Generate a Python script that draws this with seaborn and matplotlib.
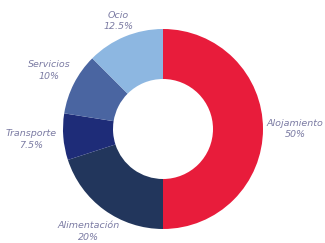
import matplotlib
matplotlib.use("Agg")
import matplotlib.pyplot as plt
import seaborn as sns
import numpy as np

# Data (clockwise from 12 o'clock)
categories = ["Alojamiento", "Alimentación", "Transporte", "Servicios", "Ocio"]
shares = [50, 20, 7.5, 10, 12.5]
share_labels = ["50%", "20%", "7.5%", "10%", "12.5%"]
colors = ["#E81C3B", "#22365C", "#1E2C78", "#4A65A1", "#8DB7E1"]
# how far each label sits from the centre (in radii)
label_dist = [1.32, 1.27, 1.32, 1.28, 1.17]

sns.set_theme(style="white")
plt.rcParams['font.family'] = ['DejaVu Sans']

fig = plt.figure(figsize=(3.25, 2.43), dpi=100)
# square axes of 200 px centred on the donut
ax = fig.add_axes([63 / 325, 14 / 243, 200 / 325, 200 / 243])

labels = [f"{c}\n{s}" for c, s in zip(categories, share_labels)]
wedges, texts = ax.pie(
    shares,
    labels=labels,
    colors=sns.color_palette(colors),
    startangle=90,
    counterclock=False,
    radius=1.0,
    labeldistance=1.3,
    wedgeprops=dict(width=0.5, edgecolor="none"),
    textprops=dict(fontsize=6.8, style="italic", color="#7B7BA3",
                   linespacing=1.4),
)
for w, t, d in zip(wedges, texts, label_dist):
    ang = np.deg2rad((w.theta1 + w.theta2) / 2)
    t.set_position((d * np.cos(ang), d * np.sin(ang)))
    t.set_horizontalalignment("center")
    t.set_verticalalignment("center")
    t.set_clip_on(False)

ax.set_xlim(-1, 1)
ax.set_ylim(-1, 1)
ax.set_aspect("equal")
ax.axis("off")

fig.savefig("out.png", dpi=100, facecolor="white")
